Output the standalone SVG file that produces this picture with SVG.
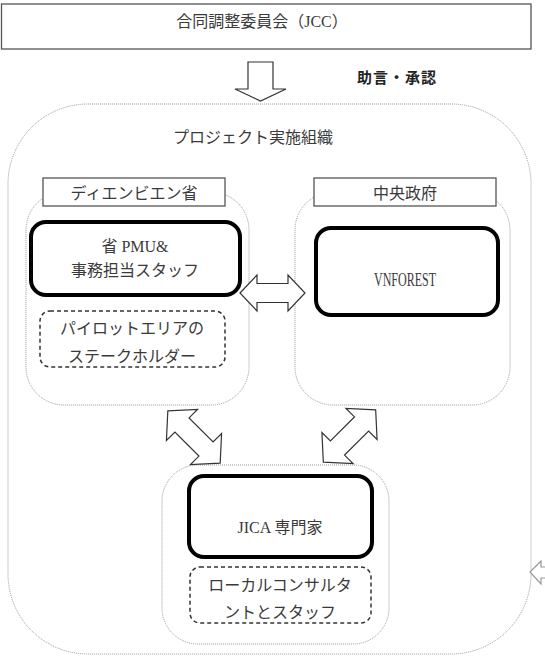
<svg xmlns="http://www.w3.org/2000/svg" width="545" height="664" viewBox="0 0 545 664">
<defs>
<style>
.t{font-family:"Liberation Serif","Noto Sans CJK JP",serif;font-size:16px;fill:#3a3a3a;text-anchor:middle;dominant-baseline:central}
.b{font-family:"Noto Sans CJK JP","Liberation Sans",sans-serif;font-size:15px;font-weight:bold;fill:#222;text-anchor:middle;dominant-baseline:central;letter-spacing:1px}
.dot{fill:none;stroke:#999;stroke-width:1;stroke-dasharray:1 1}
.thick{fill:#fff;stroke:#000;stroke-width:4}
.dash{fill:#fff;stroke:#333;stroke-width:1.5;stroke-dasharray:4 3}
.lbl{fill:#fff;stroke:#555;stroke-width:1.3}
.arr{fill:#fff;stroke:#333;stroke-width:1.2;stroke-linejoin:miter}
</style>
<polygon id="dbl" points="-37,0 -17,-22 -17,-10 17,-10 17,-22 37,0 17,22 17,10 -17,10 -17,22"/>
</defs>
<rect width="545" height="664" fill="#fff"/>

<g id="jcc">
<rect x="1.5" y="4" width="529.5" height="45" fill="#fff" stroke="#555" stroke-width="1.3"/>
<text class="t" x="262" y="21">合同調整委員会（JCC）</text>
</g>

<g id="advice">
<text class="b" x="397" y="76">助言・承認</text>
</g>

<g id="org">
<rect class="dot" x="8" y="104" width="523" height="550" rx="80" ry="80"/>
<text class="t" x="253" y="137">プロジェクト実施組織</text>
</g>

<g id="dienbien">
<rect class="dot" x="26" y="192" width="223" height="213" rx="38" ry="38"/>
<rect class="lbl" x="43" y="178" width="182" height="28"/>
<text class="t" x="134" y="193">ディエンビエン省</text>
</g>

<g id="central">
<rect class="dot" x="295" y="192" width="215" height="213" rx="38" ry="38"/>
<rect class="lbl" x="314" y="178" width="182" height="28"/>
<text class="t" x="405" y="193">中央政府</text>
</g>

<g id="pmu">
<rect class="thick" x="31" y="222" width="209" height="73" rx="15" ry="15"/>
<text class="t" x="135" y="246">省 PMU&amp;</text>
<text class="t" x="135" y="270">事務担当スタッフ</text>
</g>

<g id="pilot">
<rect class="dash" x="40" y="311" width="185" height="56" rx="10" ry="10"/>
<text class="t" x="132" y="328">パイロットエリアの</text>
<text class="t" x="132" y="356">ステークホルダー</text>
</g>

<g id="vnforest">
<rect class="thick" x="316" y="228" width="182" height="87" rx="15" ry="15"/>
<text class="t" x="405" y="280" style="font-size:18px" textLength="62" lengthAdjust="spacingAndGlyphs">VNFOREST</text>
</g>

<g id="jica-group">
<rect class="dot" x="162" y="465" width="227" height="179" rx="36" ry="36"/>
</g>

<g id="jica">
<rect class="thick" x="189" y="476" width="183" height="81" rx="15" ry="15"/>
<text class="t" x="280" y="527">JICA 専門家</text>
</g>

<g id="local">
<rect class="dash" x="190" y="567" width="181" height="56" rx="10" ry="10"/>
<text class="t" x="280" y="585">ローカルコンサルタ</text>
<text class="t" x="280" y="612">ントとスタッフ</text>
</g>

<g id="connectors">
<polygon class="arr" points="248,62 273,62 273,89 286,89 260.5,101 235,89 248,89"/>
<polygon class="arr" points="240,293 257,275 257,283.5 288,283.5 288,275 305,293 288,311 288,302.5 257,302.5 257,311"/>
<use href="#dbl" class="arr" transform="translate(194,437) rotate(45)"/>
<use href="#dbl" class="arr" transform="translate(349.5,436) rotate(-45)"/>
<polygon points="530,572 541,561 541,567 548,567 548,578 541,578 541,584" fill="#fff" stroke="#999" stroke-width="1.2"/>
</g>
</svg>
